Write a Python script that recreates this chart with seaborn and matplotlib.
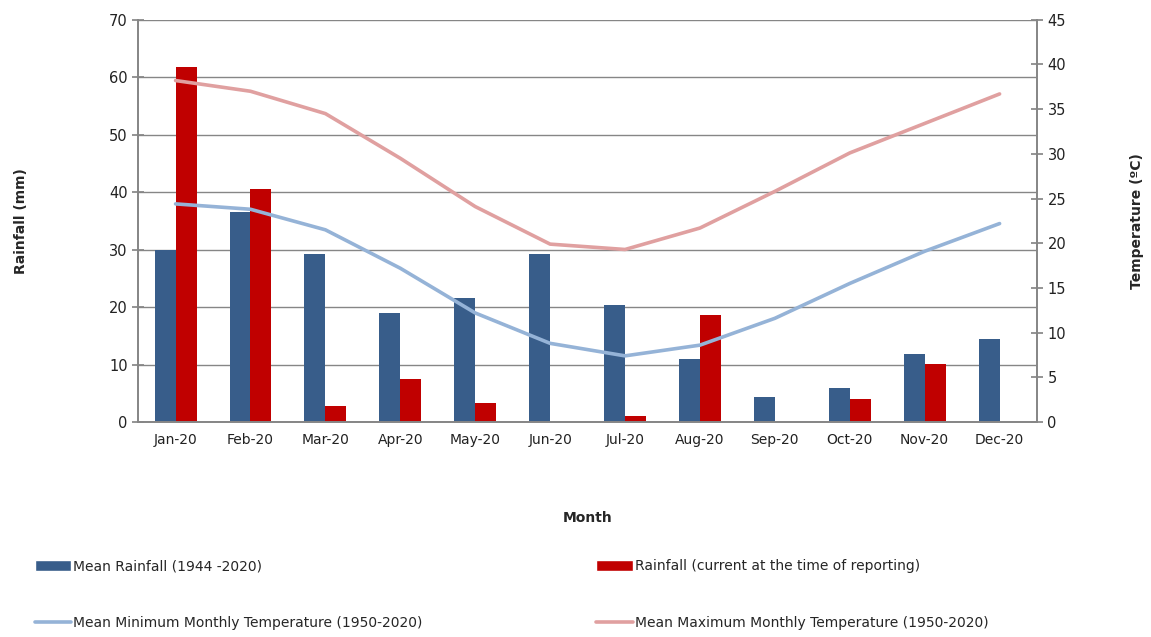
import numpy as np
import pandas as pd
import matplotlib
matplotlib.use("Agg")
import matplotlib.pyplot as plt
from matplotlib.patches import Patch
from matplotlib.lines import Line2D
import seaborn as sns

sns.set_theme(style="white")
plt.rcParams['font.family'] = ['DejaVu Sans']

# Data
months = ['Jan-20', 'Feb-20', 'Mar-20', 'Apr-20', 'May-20', 'Jun-20',
          'Jul-20', 'Aug-20', 'Sep-20', 'Oct-20', 'Nov-20', 'Dec-20']
mean_rainfall = [30.0, 36.5, 29.3, 18.9, 21.5, 29.3, 20.3, 10.9, 4.3, 6.0, 11.8, 14.5]
current_rainfall = [61.8, 40.6, 2.8, 7.4, 3.3, 0.0, 1.0, 18.6, 0.0, 4.0, 10.1, 0.0]
min_temp = [24.4, 23.8, 21.5, 17.2, 12.2, 8.8, 7.4, 8.6, 11.6, 15.5, 19.1, 22.2]
max_temp = [38.2, 37.0, 34.5, 29.5, 24.1, 19.9, 19.3, 21.7, 25.8, 30.1, 33.4, 36.7]

lbl_mean = 'Mean Rainfall (1944 -2020)'
lbl_cur = 'Rainfall (current at the time of reporting)'
lbl_min = 'Mean Minimum Monthly Temperature (1950-2020)'
lbl_max = 'Mean Maximum Monthly Temperature (1950-2020)'

c_mean = '#385D8A'
c_cur = '#C00000'
c_min = '#95B3D7'
c_max = '#E0A0A0'
grey = '#868686'

df = pd.DataFrame({
    'Month': months * 2,
    'Rainfall': mean_rainfall + current_rainfall,
    'Series': [lbl_mean] * 12 + [lbl_cur] * 12,
})

fig, ax = plt.subplots(figsize=(11.51, 6.37), dpi=100)
plt.subplots_adjust(left=0.12, right=0.901, top=0.969, bottom=0.3375)

sns.barplot(data=df, x='Month', y='Rainfall', hue='Series', order=months,
            palette=[c_mean, c_cur], width=0.56, gap=0, saturation=1,
            linewidth=0, legend=False, ax=ax)
ax.set_axisbelow(True)
ax.set_ylim(0, 70)
ax.set_xlim(-0.5, 11.5)
ax.set_yticks(range(0, 71, 10))
ax.yaxis.grid(True, color=grey, linewidth=1)
ax.set_xticks(np.arange(-0.5, 12, 1), minor=False)
ax.set_xticklabels([])
ax.set_xticks(np.arange(12), minor=True)
ax.set_xticklabels(months, minor=True, fontsize=10, color='#222222')
ax.tick_params(axis='x', which='major', direction='inout', length=8, color=grey, width=1)
ax.tick_params(axis='x', which='minor', length=0, pad=8)
ax.tick_params(axis='y', direction='inout', length=8, color=grey, labelsize=10.5,
               labelcolor='#222222', left=True)
ax.set_xlabel('Month', fontsize=10, fontweight='bold', labelpad=46)
ax.set_ylabel('Rainfall (mm)', fontsize=10, fontweight='bold', labelpad=58)
for s in ['left', 'bottom', 'right']:
    ax.spines[s].set_color(grey)
ax.spines['top'].set_visible(False)

ax2 = ax.twinx()
x = np.arange(len(months))
sns.lineplot(x=x, y=min_temp, color=c_min, linewidth=2.6, ax=ax2)
sns.lineplot(x=x, y=max_temp, color=c_max, linewidth=2.6, ax=ax2)
ax2.set_ylim(0, 45)
ax2.set_yticks(range(0, 46, 5))
ax2.tick_params(axis='y', direction='inout', length=8, color=grey, labelsize=10.5,
                labelcolor='#222222', right=True)
ax2.set_ylabel('Temperature (ºC)', fontsize=10, fontweight='bold', labelpad=46)
for s in ['left', 'bottom', 'right']:
    ax2.spines[s].set_color(grey)
ax2.spines['top'].set_visible(False)

handles = [
    Patch(facecolor=c_mean, label=lbl_mean),
    Line2D([0], [0], color=c_min, linewidth=2.6, label=lbl_min),
    Patch(facecolor=c_cur, label=lbl_cur),
    Line2D([0], [0], color=c_max, linewidth=2.6, label=lbl_max),
]
fig.legend(handles=handles, ncol=2, loc='center left', bbox_to_anchor=(0.03, 0.066),
           frameon=False, fontsize=10, labelspacing=3.1, columnspacing=12.5,
           handlelength=2.6, handleheight=0.8, handletextpad=0.2,
           borderpad=0, borderaxespad=0)

fig.savefig('out.png', dpi=100, facecolor='white')
